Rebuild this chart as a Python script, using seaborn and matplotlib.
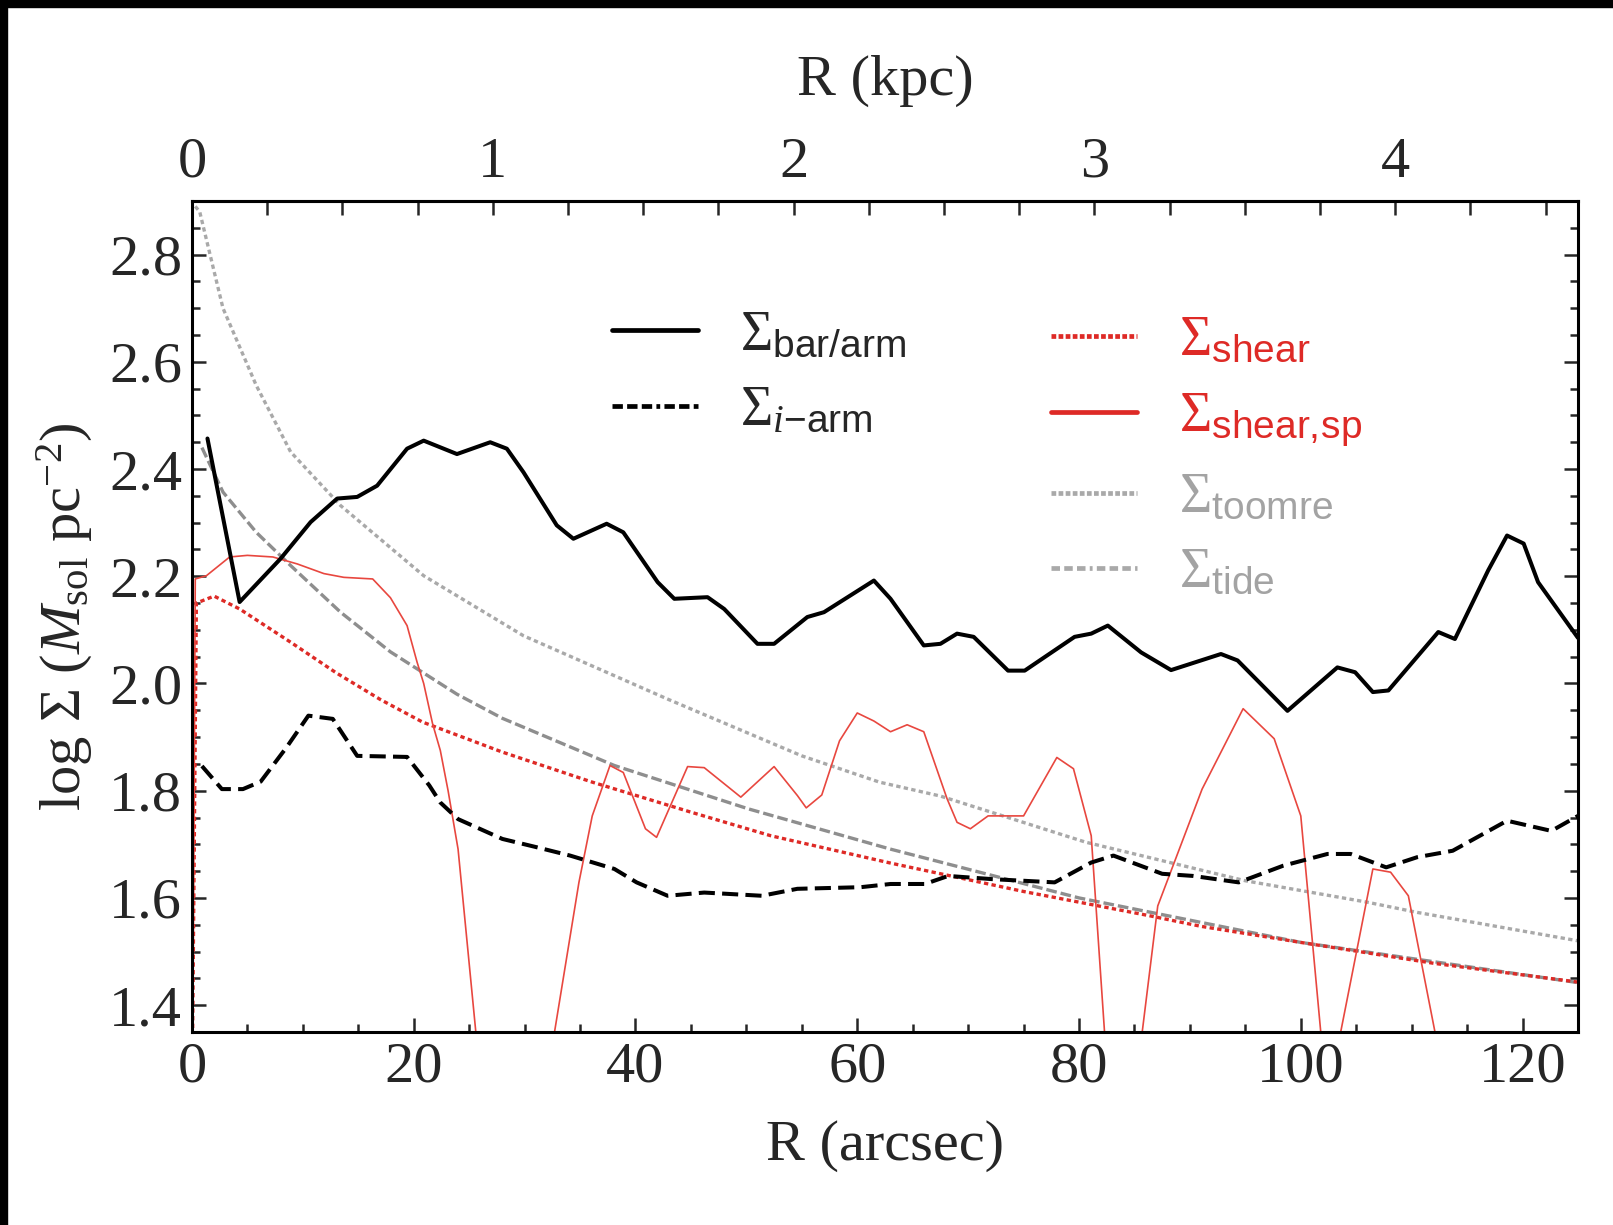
import numpy as np
import pandas as pd
import seaborn as sns
import matplotlib.pyplot as plt
from matplotlib.lines import Line2D
from matplotlib.patches import Rectangle
from matplotlib.ticker import MultipleLocator, FixedLocator

#--------------------------------------------------------------------------------------------------
# data (R in arcsec, log Sigma)

bar_x = [1.4, 4.3, 8.0, 10.7, 13.1, 14.9, 16.7, 19.4, 20.9, 23.9, 26.9, 28.4, 29.9, 32.9, 34.4,
         37.4, 38.9, 42.0, 43.5, 46.5, 48.0, 51.0, 52.5, 55.5, 57.0, 61.5, 63.0, 66.0, 67.5, 69.0,
         70.5, 73.6, 75.1, 79.6, 81.1, 82.6, 85.6, 88.3, 92.8, 94.3, 98.8, 103.3, 104.9, 106.5,
         107.9, 112.4, 113.9, 116.9, 118.6, 120.1, 121.4, 125.0]
bar_y = [2.457, 2.152, 2.233, 2.301, 2.345, 2.348, 2.369, 2.438, 2.453, 2.428, 2.450, 2.438, 2.394,
         2.295, 2.270, 2.298, 2.282, 2.189, 2.158, 2.161, 2.139, 2.074, 2.074, 2.124, 2.133, 2.192,
         2.158, 2.071, 2.074, 2.093, 2.087, 2.024, 2.024, 2.087, 2.093, 2.108, 2.058, 2.025, 2.055,
         2.043, 1.949, 2.030, 2.021, 1.984, 1.987, 2.096, 2.083, 2.211, 2.276, 2.261, 2.189, 2.085]

iarm_x = [0.9, 2.7, 4.6, 6.2, 8.5, 10.5, 12.7, 14.9, 19.4, 21.4, 22.4, 24.0, 28.0, 31.0, 34.1,
          38.1, 40.1, 42.9, 46.2, 51.4, 54.6, 60.3, 63.0, 66.1, 68.2, 72.2, 77.8, 81.1, 83.1,
          87.5, 90.3, 94.4, 98.4, 102.4, 104.5, 107.7, 110.5, 113.7, 118.6, 122.6, 125.0]
iarm_y = [1.846, 1.803, 1.803, 1.817, 1.880, 1.940, 1.934, 1.865, 1.863, 1.810, 1.778, 1.747,
          1.710, 1.695, 1.679, 1.654, 1.629, 1.604, 1.610, 1.604, 1.617, 1.620, 1.626, 1.626,
          1.641, 1.635, 1.629, 1.666, 1.679, 1.645, 1.641, 1.629, 1.660, 1.682, 1.682, 1.657,
          1.676, 1.688, 1.744, 1.725, 1.753]

shear_x = [0.0, 0.4, 2.0, 4.3, 8.9, 13.0, 17.0, 20.8, 28.0, 36.1, 45.0, 52.2, 63.0, 75.0, 86.3,
           91.0, 100.0, 112.0, 125.0]
shear_y = [1.20, 2.150, 2.163, 2.139, 2.077, 2.020, 1.970, 1.928, 1.872, 1.816, 1.760, 1.716,
           1.665, 1.612, 1.567, 1.547, 1.517, 1.478, 1.443]

sp_x = [0.0, 0.3, 1.3, 3.4, 5.0, 7.3, 9.5, 11.9, 13.7, 16.3, 17.9, 19.4, 20.3, 20.9, 21.7, 22.4,
        23.1, 24.0, 25.6, 29.0, 32.7, 34.9, 36.1, 37.7, 38.9, 40.9, 41.9, 44.7, 46.2, 49.5, 52.5,
        54.6, 55.4, 56.8, 58.4, 60.0, 61.5, 63.0, 64.5, 66.0, 68.1, 69.0, 70.2, 71.8, 75.0, 78.0,
        79.5, 81.1, 82.3, 84.0, 85.7, 87.1, 91.1, 94.8, 97.6, 100.0, 101.8, 102.7, 103.6, 106.5,
        108.1, 109.7, 112.1, 113.5]
sp_y = [1.00, 2.195, 2.201, 2.236, 2.239, 2.236, 2.223, 2.205, 2.198, 2.195, 2.160, 2.108, 2.040,
        2.000, 1.925, 1.875, 1.800, 1.691, 1.350, 1.000, 1.350, 1.629, 1.753, 1.847, 1.834, 1.729,
        1.713, 1.845, 1.843, 1.788, 1.845, 1.791, 1.768, 1.792, 1.893, 1.945, 1.930, 1.910, 1.923,
        1.910, 1.785, 1.741, 1.729, 1.753, 1.753, 1.862, 1.841, 1.716, 1.350, 1.000, 1.350, 1.585,
        1.803, 1.953, 1.897, 1.753, 1.350, 1.000, 1.350, 1.654, 1.648, 1.604, 1.350, 1.000]

toomre_x = [0.3, 0.7, 2.8, 5.8, 8.9, 13.4, 20.9, 29.9, 43.0, 55.0, 62.0, 67.5, 80.6, 95.0,
            106.0, 110.5, 125.0]
toomre_y = [2.890, 2.880, 2.700, 2.556, 2.432, 2.332, 2.201, 2.089, 1.970, 1.865, 1.816, 1.790,
            1.704, 1.632, 1.592, 1.573, 1.520]

tide_x = [0.9, 2.8, 5.8, 8.9, 13.4, 17.9, 23.9, 28.0, 38.1, 50.2, 63.0, 80.0, 100.0, 125.0]
tide_y = [2.440, 2.357, 2.282, 2.220, 2.133, 2.059, 1.980, 1.935, 1.847, 1.766, 1.691, 1.600,
          1.517, 1.442]

kpc_ticks = [0, 1, 2, 3, 4]
ARCSEC_PER_KPC = 27.13

#--------------------------------------------------------------------------------------------------

sns.set_style('ticks')
plt.rcParams['font.family'] = ['Liberation Serif', 'DejaVu Serif']
plt.rcParams['mathtext.fontset'] = 'custom'
plt.rcParams['mathtext.rm'] = 'Liberation Serif'
plt.rcParams['mathtext.it'] = 'Liberation Serif:italic'
plt.rcParams['mathtext.bf'] = 'Liberation Serif:bold'
plt.rcParams['mathtext.sf'] = 'Liberation Sans'

RED = '#de2a26'
RED_THIN = '#e8473f'
GRAY_DOT = '#a9a9a9'
GRAY_DASH = '#8e8e8e'

fig = plt.figure(figsize=(16.13, 12.25), dpi=100)
ax = fig.add_axes([0.119, 0.1576, 0.8593, 0.6783])

def curve(x, y, **kw):
    df = pd.DataFrame({'R': x, 'S': y})
    sns.lineplot(data=df, x='R', y='S', ax=ax, estimator=None, sort=False, **kw)

curve(toomre_x, toomre_y, color=GRAY_DOT, lw=2.4, linestyle=(0, (1.3, 1.0)))
curve(tide_x, tide_y, color=GRAY_DASH, lw=2.4, linestyle=(0, (3.2, 1.2)))
curve(shear_x, shear_y, color=RED, lw=2.4, linestyle=(0, (1.3, 1.0)))
curve(sp_x, sp_y, color=RED_THIN, lw=1.2)
curve(iarm_x, iarm_y, color='black', lw=2.9, linestyle=(0, (4.0, 1.8)))
curve(bar_x, bar_y, color='black', lw=2.9)

ax.set_xlim(0, 125)
ax.set_ylim(1.35, 2.9)
ax.xaxis.set_major_locator(MultipleLocator(20))
ax.xaxis.set_minor_locator(MultipleLocator(5))
ax.yaxis.set_major_locator(MultipleLocator(0.2))
ax.yaxis.set_minor_locator(MultipleLocator(0.05))
ax.yaxis.set_major_formatter(plt.FormatStrFormatter('%.1f'))
ax.tick_params(which='both', direction='in', right=True, top=False, width=1.8, labelsize=42)
ax.tick_params(which='major', length=10)
ax.tick_params(which='minor', length=6)
ax.tick_params(axis='x', pad=7)
ax.tick_params(axis='y', pad=7)
for s in ax.spines.values():
    s.set_linewidth(2.2)
    s.set_color('black')

ax.set_xlabel('R (arcsec)', fontsize=42, labelpad=19)
ax.set_ylabel(r'log $\Sigma$ ($M_{\rm sol}$ pc$^{-2}$)', fontsize=42, labelpad=10)

sec = ax.secondary_xaxis('top', functions=(lambda a: a / ARCSEC_PER_KPC,
                                           lambda k: k * ARCSEC_PER_KPC))
sec.xaxis.set_major_locator(FixedLocator(kpc_ticks))
sec.xaxis.set_minor_locator(MultipleLocator(0.25))
sec.tick_params(which='both', direction='in', width=1.8, labelsize=42, pad=9)
sec.tick_params(which='major', length=10)
sec.tick_params(which='minor', length=10)
sec.spines['top'].set_linewidth(2.2)
sec.set_xlabel('R (kpc)', fontsize=42, labelpad=30)

# legends
h1 = [Line2D([], [], color='black', lw=3.4),
      Line2D([], [], color='black', lw=3.4, linestyle=(0, (2.2, 0.9, 2.2, 0.9, 2.2, 0.9, 0.8, 0.9)))]
l1 = [r'$\Sigma_{\mathsf{bar/arm}}$', r'$\Sigma_{i\mathsf{-arm}}$']
h2 = [Line2D([], [], color=RED, lw=3.4, linestyle=(0, (1.0, 0.5))),
      Line2D([], [], color=RED, lw=3.4),
      Line2D([], [], color=GRAY_DOT, lw=3.4, linestyle=(0, (1.0, 0.5))),
      Line2D([], [], color=GRAY_DOT, lw=3.4, linestyle=(0, (1.8, 0.9, 1.8, 0.9, 1.8, 0.9, 0.6, 0.9)))]
l2 = [r'$\Sigma_{\mathsf{shear}}$', r'$\Sigma_{\mathsf{shear,\!sp}}$',
      r'$\Sigma_{\mathsf{toomre}}$', r'$\Sigma_{\mathsf{tide}}$']

leg_kw = dict(loc='upper left', frameon=False, fontsize=40, handlelength=1.55,
              handletextpad=0.75, labelspacing=0.42, borderpad=0, borderaxespad=0)
leg1 = ax.legend(h1, l1, bbox_to_anchor=(0.303, 0.869), **leg_kw)
ax.add_artist(leg1)
leg2 = ax.legend(h2, l2, bbox_to_anchor=(0.62, 0.862), **leg_kw)
for t, c in zip(leg2.get_texts(), [RED, RED, '#a3a3a3', '#a3a3a3']):
    t.set_color(c)

# black frame from the screenshot
fig.patches.append(Rectangle((0, 1 - 7 / 1225), 1, 7 / 1225, transform=fig.transFigure,
                             color='black', zorder=10))
fig.patches.append(Rectangle((0, 0), 7 / 1613, 1, transform=fig.transFigure,
                             color='black', zorder=10))

fig.savefig('out.png', dpi=100)
